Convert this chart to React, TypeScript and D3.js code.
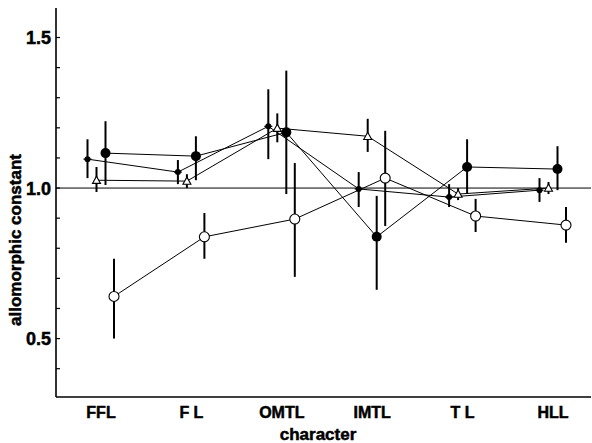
import React from "react";
import * as d3 from "d3";

const categories = ["FFL", "F L", "OMTL", "IMTL", "T L", "HLL"];
const yTickLabels = [0.5, 1.0, 1.5];
const minorTicks = [0.4, 0.5, 0.6, 0.7, 0.8, 0.9, 1.0, 1.1, 1.2, 1.3, 1.4, 1.5];

// series: small filled dot
const smallValues = [1.096, 1.053, 1.205, 0.997, 0.97, 0.993];
const smallLow = [1.033, 1.013, 1.096, 0.937, 0.937, 0.954];
const smallHigh = [1.162, 1.093, 1.328, 1.053, 1.013, 1.033];

// series: open triangle
const triValues = [1.026, 1.023, 1.199, 1.172, 0.98, 1.0];
const triLow = [0.987, 1.0, 1.152, 1.12, 0.96, 0.98];
const triHigh = [1.07, 1.046, 1.248, 1.23, 1.0, 1.02];

// series: filled circle
const fillValues = [1.116, 1.106, 1.185, 0.838, 1.07, 1.063];
const fillLow = [1.01, 1.026, 0.98, 0.662, 0.983, 0.993];
const fillHigh = [1.222, 1.172, 1.39, 0.974, 1.162, 1.139];

// series: open circle
const openValues = [0.64, 0.838, 0.897, 1.033, 0.907, 0.877];
const openLow = [0.5, 0.765, 0.705, 0.874, 0.854, 0.818];
const openHigh = [0.765, 0.917, 1.083, 1.19, 0.964, 0.937];

const FONT = "'Liberation Sans Narrow', 'Liberation Sans', Arial, sans-serif";

export default function App() {
  const W = 592, H = 443;
  const x0 = 56, x1 = 591, yTop = 8, yBot = 397;
  const x = d3.scalePoint<string>().domain(categories).range([101, 553]);
  const y = d3.scaleLinear().domain([0.306, 1.598]).range([yBot, yTop]);

  const series = [
    { key: "small", v: smallValues, lo: smallLow, hi: smallHigh, dx: -13.5 },
    { key: "tri", v: triValues, lo: triLow, hi: triHigh, dx: -4.5 },
    { key: "fill", v: fillValues, lo: fillLow, hi: fillHigh, dx: 4.5 },
    { key: "open", v: openValues, lo: openLow, hi: openHigh, dx: 13 },
  ];

  const line = d3
    .line<[number, number]>()
    .x((d) => d[0])
    .y((d) => d[1]);

  const marker = (key: string, cx: number, cy: number, i: number) => {
    if (key === "small")
      return (
        <g key={i}>
          <circle cx={cx} cy={cy} r={3} fill="#000" />
          <line x1={cx - 4} x2={cx + 4} y1={cy} y2={cy} stroke="#000" strokeWidth={1.2} />
        </g>
      );
    if (key === "fill")
      return <circle key={i} cx={cx} cy={cy} r={5} fill="#000" />;
    if (key === "open")
      return <circle key={i} cx={cx} cy={cy} r={5} fill="#fff" stroke="#000" strokeWidth={1.1} />;
    const s = 4;
    const pts = `${cx},${cy - s} ${cx + s},${cy + s * 0.8} ${cx - s},${cy + s * 0.8}`;
    return <polygon key={i} points={pts} fill="#fff" stroke="#000" strokeWidth={1.1} />;
  };

  const textStyle = {
    fontFamily: FONT,
    fontWeight: "bold" as const,
    stroke: "#000",
    strokeWidth: 0.5,
    whiteSpace: "pre" as const,
  };

  return (
    <svg width={W} height={H} style={{ position: "absolute", left: 0, top: 0, background: "#fff" }}>
      <rect width={W} height={H} fill="#fff" />
      {/* axes */}
      <line x1={x0} x2={x0} y1={yTop} y2={yBot} stroke="#000" strokeWidth={1.6} />
      <line x1={x0} x2={x1} y1={yBot} y2={yBot} stroke="#000" strokeWidth={1.6} />
      {minorTicks.map((t) => (
        <line key={t} x1={x0} x2={x0 + 4} y1={y(t)} y2={y(t)} stroke="#000" strokeWidth={1.2} />
      ))}
      {/* reference line at 1.0 */}
      <line x1={x0} x2={x1} y1={y(1.0)} y2={y(1.0)} stroke="#000" strokeWidth={1} />
      {yTickLabels.map((t) => (
        <text key={t} x={x0 - 5} y={y(t)} dy="0.36em" textAnchor="end" fontSize={18} style={textStyle}>
          {t.toFixed(1)}
        </text>
      ))}
      {categories.map((c) => (
        <text key={c} x={x(c)} y={418} textAnchor="middle" fontSize={16} style={textStyle}>
          {c}
        </text>
      ))}
      <text x={318} y={440} textAnchor="middle" fontSize={17} style={textStyle}>
        character
      </text>
      <text transform={`translate(21,${240}) rotate(-90)`} textAnchor="middle" fontSize={17} style={textStyle}>
        allomorphic constant
      </text>
      {/* connecting lines */}
      {series.map((s) => (
        <path key={s.key}
          d={line(s.v.map((v, i) => [(x(categories[i]) as number) + s.dx, y(v)]))!}
          fill="none" stroke="#000" strokeWidth={1} />
      ))}
      {/* error bars */}
      {series.map((s) =>
        s.v.map((v, i) => {
          const cx = (x(categories[i]) as number) + s.dx;
          return (
            <line key={s.key + i} x1={cx} x2={cx} y1={y(s.lo[i])} y2={y(s.hi[i])}
              stroke="#000" strokeWidth={2} />
          );
        })
      )}
      {/* markers */}
      {series.map((s) => (
        <g key={s.key}>
          {s.v.map((v, i) => marker(s.key, (x(categories[i]) as number) + s.dx, y(v), i))}
        </g>
      ))}
    </svg>
  );
}
